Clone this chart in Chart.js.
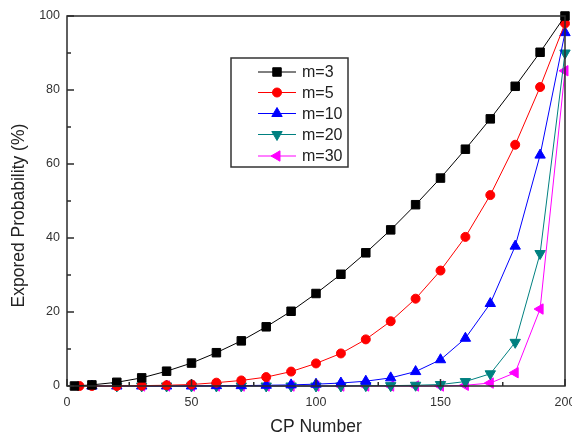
<!DOCTYPE html>
<html>
<head>
<meta charset="utf-8">
<script src="https://cdn.jsdelivr.net/npm/chart.js@4.4.1/dist/chart.umd.min.js"></script>
<style>
  html, body { margin: 0; padding: 0; background: #fff; overflow: hidden; }
  #wrap { width: 572px; height: 436px; }
</style>
</head>
<body>
<div id="wrap"><canvas id="expChart" width="572" height="436"></canvas></div>
<script>
// CP number (x) and explored probability in % (y), one pair per curve
const cpM3  = [3, 10, 20, 30, 40, 50, 60, 70, 80, 90, 100, 110, 120, 130, 140, 150, 160, 170, 180, 190, 200];
const probM3  = [0.0, 0.3, 1.0, 2.2, 4.0, 6.2, 9.0, 12.2, 16.0, 20.2, 25.0, 30.2, 36.0, 42.2, 49.0, 56.2, 64.0, 72.2, 81.0, 90.2, 100];

const cpM5  = [5, 10, 20, 30, 40, 50, 60, 70, 80, 90, 100, 110, 120, 130, 140, 150, 160, 170, 180, 190, 200];
const probM5  = [0.0, 0.0, 0.0, 0.1, 0.2, 0.4, 0.9, 1.5, 2.4, 3.9, 6.1, 8.8, 12.6, 17.5, 23.6, 31.2, 40.3, 51.6, 65.2, 80.8, 98.0];

const cpM10 = [10, 20, 30, 40, 50, 60, 70, 80, 90, 100, 110, 120, 130, 140, 150, 160, 170, 180, 190, 200];
const probM10 = [0, 0, 0, 0, 0, 0.1, 0.1, 0.2, 0.3, 0.5, 0.8, 1.3, 2.2, 3.9, 7.1, 12.9, 22.3, 37.8, 62.4, 95.5];

const cpM20 = [20, 30, 40, 50, 60, 70, 80, 90, 100, 110, 120, 130, 140, 150, 160, 170, 180, 190, 200];
const probM20 = [0, 0, 0, 0, 0, 0, 0, 0, 0, 0, 0.1, 0.1, 0.2, 0.4, 1.2, 3.3, 11.8, 35.8, 90.0];

const cpM30 = [30, 40, 50, 60, 70, 80, 90, 100, 110, 120, 130, 140, 150, 160, 170, 180, 190, 200];
const probM30 = [0, 0, 0, 0, 0, 0, 0, 0, 0, 0, 0, 0, 0, 0.2, 0.8, 3.6, 20.8, 85.2];

const seriesLabels = ['m=3', 'm=5', 'm=10', 'm=20', 'm=30'];

const FONT = 'Liberation Sans, Arial, sans-serif';

function pts(xs, ys) {
  return xs.map((x, i) => ({ x: x, y: ys[i] }));
}

function series(label, data, color, style, radius, rotation) {
  return {
    label: label,
    data: data,
    borderColor: color,
    backgroundColor: color,
    borderWidth: 1,
    pointStyle: style,
    pointRadius: radius,
    pointRotation: rotation,
    pointBorderWidth: 1,
    pointBorderColor: color,
    pointBackgroundColor: color,
    tension: 0,
    clip: false
  };
}

// frame, inward ticks and the boxed legend inside the plot
const frameAndLegend = {
  id: 'frameAndLegend',
  afterDraw(chart) {
    const ctx = chart.ctx;
    const a = chart.chartArea;
    const x = chart.scales.x, y = chart.scales.y;
    ctx.save();
    ctx.strokeStyle = '#2b2b2b';
    ctx.lineWidth = 1.5;
    ctx.strokeRect(a.left, a.top, a.right - a.left, a.bottom - a.top);

    ctx.beginPath();
    for (let v = 0; v <= 200; v += 25) {
      const px = x.getPixelForValue(v);
      const len = v % 50 === 0 ? 7 : 4;
      ctx.moveTo(px, a.bottom);
      ctx.lineTo(px, a.bottom - len);
    }
    for (let v = 0; v <= 100; v += 10) {
      const py = y.getPixelForValue(v);
      const len = v % 20 === 0 ? 7 : 4;
      ctx.moveTo(a.left, py);
      ctx.lineTo(a.left + len, py);
    }
    ctx.stroke();

    // legend box
    ctx.lineWidth = 1.5;
    ctx.strokeStyle = '#333';
    ctx.strokeRect(231, 58, 117, 109);
    const rowY = [72, 92.5, 113.5, 134.5, 156];
    ctx.font = '16px ' + FONT;
    ctx.textBaseline = 'middle';
    chart.data.datasets.forEach((ds, i) => {
      const ly = rowY[i];
      ctx.strokeStyle = ds.borderColor;
      ctx.fillStyle = ds.backgroundColor;
      ctx.lineWidth = 1;
      ctx.beginPath();
      ctx.moveTo(258, ly);
      ctx.lineTo(296, ly);
      ctx.stroke();
      Chart.helpers.drawPoint(ctx, {
        pointStyle: ds.pointStyle,
        rotation: ds.pointRotation,
        radius: ds.pointRadius,
        borderWidth: 1
      }, 277, ly);
      ctx.fillStyle = '#222';
      ctx.fillText(ds.label, 302, ly + 1);
    });
    ctx.restore();
  }
};

const ctx = document.getElementById('expChart').getContext('2d');
new Chart(ctx, {
  type: 'line',
  data: {
    datasets: [
      series(seriesLabels[0], pts(cpM3, probM3), '#000000', 'rect', 6, 0),
      series(seriesLabels[1], pts(cpM5, probM5), '#ff0000', 'circle', 4.5, 0),
      series(seriesLabels[2], pts(cpM10, probM10), '#0000ff', 'triangle', 6, 0),
      series(seriesLabels[3], pts(cpM20, probM20), '#008080', 'triangle', 6, 180),
      series(seriesLabels[4], pts(cpM30, probM30), '#ff00ff', 'triangle', 6, -90)
    ]
  },
  options: {
    responsive: false,
    animation: false,
    layout: { padding: { top: 16, right: 7, left: 0, bottom: 0 } },
    plugins: {
      legend: { display: false },
      tooltip: { enabled: false }
    },
    scales: {
      x: {
        type: 'linear',
        min: 0,
        max: 200,
        grid: { display: false, drawTicks: false },
        border: { display: false },
        ticks: { stepSize: 50, padding: 9, color: '#333', font: { family: FONT, size: 12.5 } },
        title: { display: true, text: 'CP Number', color: '#222', padding: { top: 0, bottom: 0 },
                 font: { family: FONT, size: 17.5, lineHeight: 1.0 } },
        afterFit(s) { s.height = 50; s.paddingLeft = 0; s.paddingRight = 0; }
      },
      y: {
        min: 0,
        max: 100,
        grid: { display: false, drawTicks: false },
        border: { display: false },
        ticks: { stepSize: 20, padding: 7, color: '#333', font: { family: FONT, size: 12.5 } },
        title: { display: true, text: 'Expored Probability (%)      ', color: '#222', padding: { top: 10, bottom: 0 },
                 font: { family: FONT, size: 17.5, lineHeight: 1.0 } },
        afterFit(s) { s.width = 67; s.paddingTop = 0; s.paddingBottom = 0; }
      }
    }
  },
  plugins: [frameAndLegend]
});
</script>
</body>
</html>
